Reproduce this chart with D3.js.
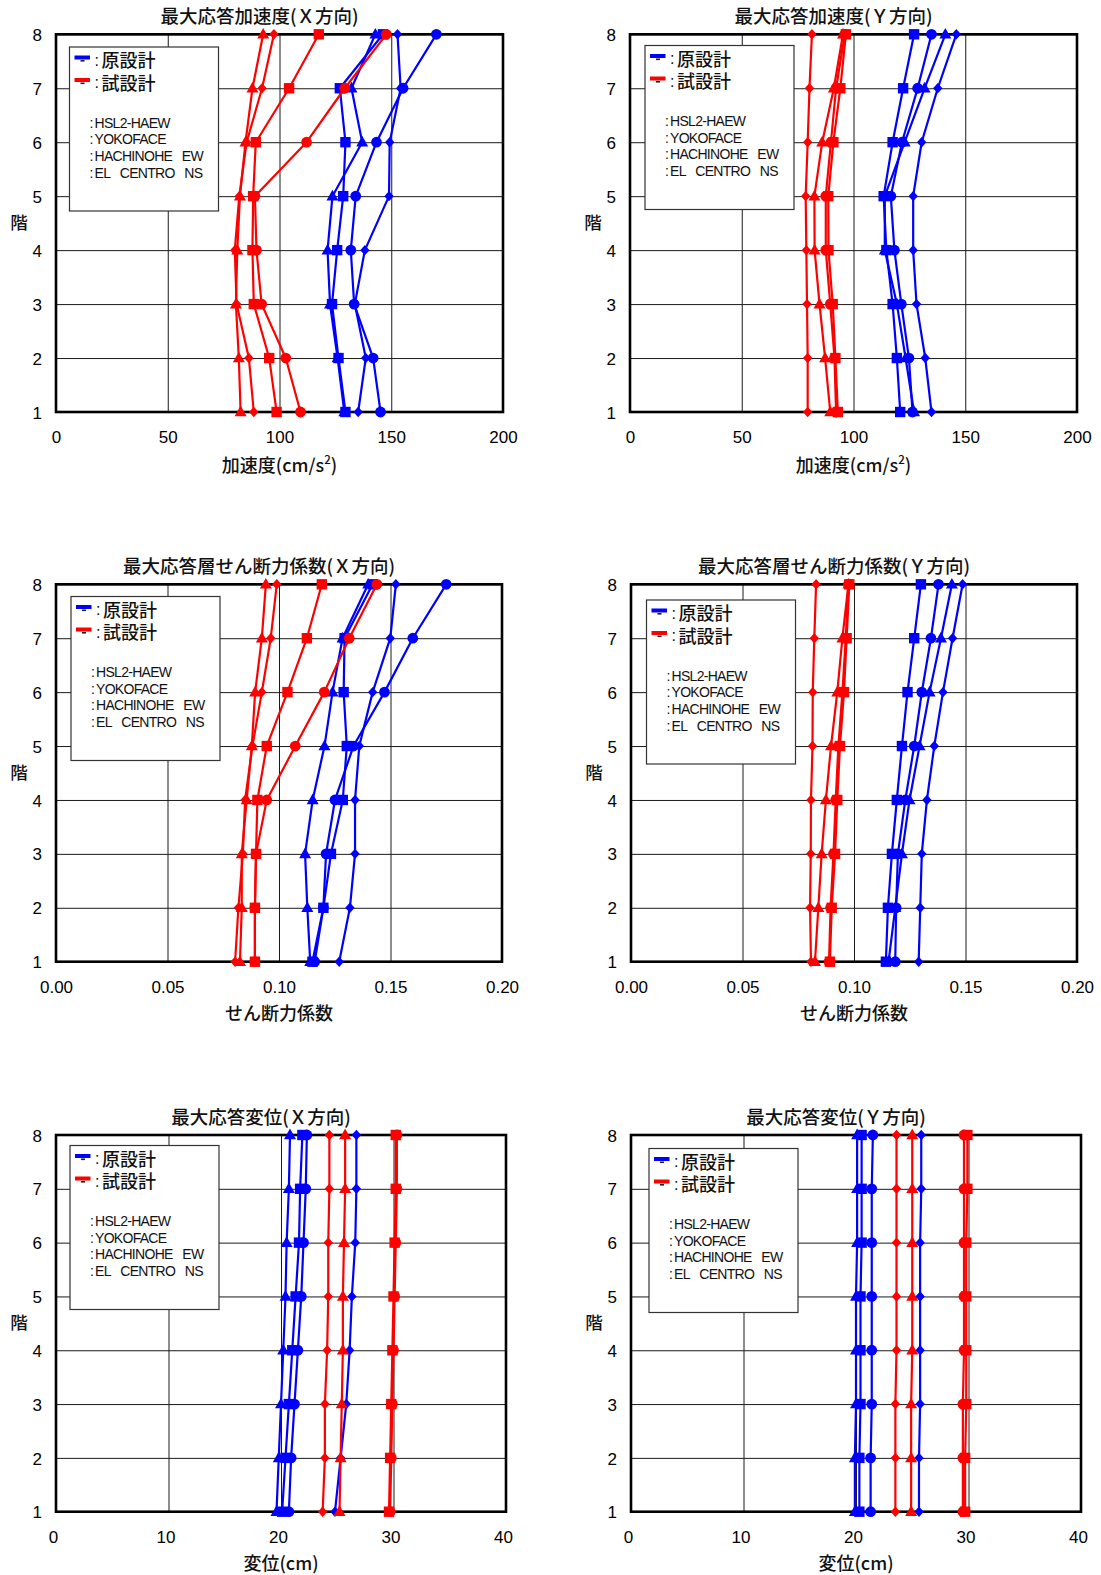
<!DOCTYPE html>
<html><head><meta charset="utf-8">
<script src="https://cdn.jsdelivr.net/npm/d3@7"></script>
<style>
body{margin:0;background:#fff}
svg{display:block}
.num{font-family:"Liberation Sans",Arial,sans-serif}
.jp{font-family:"Noto Sans CJK JP","Noto Sans",sans-serif}
</style>
</head><body>
<svg id="c" width="1101" height="1575"></svg>
<script>
// ---------- data ----------
const floors = [1, 2, 3, 4, 5, 6, 7, 8];
const waveNames = ["HSL2-HAEW", "YOKOFACE", "HACHINOHE\u00a0\u00a0\u00a0EW", "EL\u00a0\u00a0\u00a0CENTRO\u00a0\u00a0\u00a0NS"];
const markerTypes = ["square", "triangle", "diamond", "circle"];
const designNames = ["原設計", "試設計"];

const accTicks = [0, 50, 100, 150, 200];
const shearTicks = [0, 0.05, 0.10, 0.15, 0.20];
const dispTicks = [0, 10, 20, 30, 40];

// values per floor 1..8, series order: HSL2-HAEW, YOKOFACE, HACHINOHE EW, EL CENTRO NS
const accX_orig = [
  [129.5, 126.4, 123.5, 125.8, 128.5, 129.5, 127.0, 146.3],
  [129.0, 126.0, 122.6, 121.5, 123.7, 137.0, 132.2, 142.9],
  [135.2, 138.6, 133.7, 138.2, 149.0, 149.3, 154.2, 152.8],
  [145.2, 141.9, 133.4, 131.9, 134.1, 143.4, 155.3, 170.2]
];
const accX_trial = [
  [98.7, 95.4, 88.5, 87.9, 88.2, 89.4, 104.3, 117.6],
  [82.6, 81.8, 80.5, 81.1, 82.3, 84.8, 87.9, 92.7],
  [88.5, 86.3, 80.8, 80.0, 82.0, 85.3, 92.2, 97.5],
  [109.4, 102.8, 92.0, 89.7, 89.0, 112.1, 129.2, 147.8]
];
const accY_orig = [
  [120.9, 119.4, 117.5, 114.7, 113.5, 117.5, 122.2, 127.1],
  [127.1, 123.3, 119.4, 114.0, 114.0, 122.9, 131.8, 141.1],
  [134.9, 132.1, 128.2, 126.7, 126.7, 130.5, 137.7, 146.0],
  [126.4, 124.8, 121.4, 118.3, 116.7, 121.7, 128.7, 134.9]
];
const accY_trial = [
  [93.0, 91.9, 90.7, 88.8, 88.7, 91.0, 94.1, 96.6],
  [89.6, 87.3, 84.8, 82.6, 82.5, 86.0, 91.2, 95.3],
  [79.5, 79.5, 79.2, 78.9, 78.6, 79.5, 80.3, 81.4],
  [92.2, 91.5, 89.6, 87.6, 87.6, 89.9, 92.2, 96.1]
];
const shearX_orig = [
  [0.1150, 0.1199, 0.1233, 0.1286, 0.1304, 0.1290, 0.1294, 0.1420],
  [0.1140, 0.1127, 0.1117, 0.1151, 0.1204, 0.1240, 0.1285, 0.1400],
  [0.1270, 0.1318, 0.1341, 0.1341, 0.1360, 0.1420, 0.1499, 0.1524],
  [0.1160, 0.1199, 0.1211, 0.1251, 0.1334, 0.1473, 0.1600, 0.1750]
];
const shearX_trial = [
  [0.0892, 0.0892, 0.0897, 0.0903, 0.0945, 0.1038, 0.1125, 0.1192],
  [0.0825, 0.0833, 0.0833, 0.0855, 0.0878, 0.0893, 0.0923, 0.0941],
  [0.0803, 0.0818, 0.0838, 0.0848, 0.0881, 0.0923, 0.0963, 0.0990],
  [0.0892, 0.0892, 0.0897, 0.0945, 0.1073, 0.1203, 0.1315, 0.1439]
];
const shearY_orig = [
  [0.1143, 0.1152, 0.1170, 0.1192, 0.1215, 0.1240, 0.1270, 0.1300],
  [0.1155, 0.1185, 0.1215, 0.1249, 0.1294, 0.1339, 0.1390, 0.1439],
  [0.1290, 0.1297, 0.1304, 0.1327, 0.1360, 0.1399, 0.1442, 0.1487],
  [0.1185, 0.1189, 0.1197, 0.1230, 0.1270, 0.1304, 0.1345, 0.1379]
];
const shearY_trial = [
  [0.0892, 0.0900, 0.0915, 0.0925, 0.0937, 0.0955, 0.0967, 0.0979],
  [0.0825, 0.0840, 0.0855, 0.0874, 0.0897, 0.0925, 0.0948, 0.0975],
  [0.0807, 0.0803, 0.0806, 0.0807, 0.0814, 0.0815, 0.0822, 0.0830],
  [0.0888, 0.0895, 0.0908, 0.0918, 0.0930, 0.0948, 0.0963, 0.0975]
];
const dispX_orig = [
  [20.1, 20.4, 20.7, 21.0, 21.3, 21.6, 21.7, 21.9],
  [19.6, 19.8, 20.0, 20.2, 20.4, 20.5, 20.7, 20.8],
  [24.8, 25.3, 25.8, 26.1, 26.3, 26.6, 26.7, 26.7],
  [20.7, 20.9, 21.2, 21.5, 21.8, 22.0, 22.2, 22.3]
];
const dispX_trial = [
  [29.6, 29.7, 29.8, 29.9, 30.0, 30.1, 30.2, 30.2],
  [25.2, 25.3, 25.4, 25.5, 25.5, 25.6, 25.7, 25.7],
  [23.7, 23.9, 23.9, 24.1, 24.2, 24.2, 24.3, 24.3],
  [29.7, 29.8, 29.9, 30.0, 30.1, 30.2, 30.3, 30.3]
];
const dispY_orig = [
  [20.3, 20.3, 20.4, 20.4, 20.4, 20.5, 20.5, 20.5],
  [19.9, 19.9, 20.0, 20.0, 20.0, 20.1, 20.1, 20.1],
  [25.6, 25.6, 25.7, 25.7, 25.7, 25.7, 25.8, 25.8],
  [21.3, 21.3, 21.4, 21.4, 21.4, 21.4, 21.4, 21.5]
];
const dispY_trial = [
  [29.7, 29.7, 29.8, 29.8, 29.8, 29.8, 29.9, 29.9],
  [24.9, 24.9, 24.9, 25.0, 25.0, 25.0, 25.0, 25.0],
  [23.5, 23.5, 23.5, 23.6, 23.6, 23.6, 23.6, 23.6],
  [29.5, 29.5, 29.5, 29.6, 29.6, 29.6, 29.6, 29.6]
];

// ---------- layout ----------
const colors = ["#0000ff", "#ff0000"];
const panels = [
  {title:"最大応答加速度(Ｘ方向)", xlab:"acc", ticks:accTicks, fmt:d3.format("d"), orig:accX_orig, trial:accX_trial,
   l:56, r:503, t:34.3, b:412, lg:[69.5,47], tdx:0},
  {title:"最大応答加速度(Ｙ方向)", xlab:"acc", ticks:accTicks, fmt:d3.format("d"), orig:accY_orig, trial:accY_trial,
   l:630, r:1077, t:34.3, b:412, lg:[645,45.5], tdx:0},
  {title:"最大応答層せん断力係数(Ｘ方向)", xlab:"せん断力係数", ticks:shearTicks, fmt:d3.format(".2f"), orig:shearX_orig, trial:shearX_trial,
   l:56, r:502, t:584.3, b:961.7, lg:[71,596.5], tdx:0},
  {title:"最大応答層せん断力係数(Ｙ方向)", xlab:"せん断力係数", ticks:shearTicks, fmt:d3.format(".2f"), orig:shearY_orig, trial:shearY_trial,
   l:631, r:1077, t:584.3, b:961.7, lg:[646.5,600], tdx:0},
  {title:"最大応答変位(Ｘ方向)", xlab:"変位(cm)", ticks:dispTicks, fmt:d3.format("d"), orig:dispX_orig, trial:dispX_trial,
   l:56, r:506, t:1135, b:1511.7, lg:[70,1145.5], tdx:-3},
  {title:"最大応答変位(Ｙ方向)", xlab:"変位(cm)", ticks:dispTicks, fmt:d3.format("d"), orig:dispY_orig, trial:dispY_trial,
   l:631, r:1081, t:1135, b:1511.7, lg:[649,1148.5], tdx:-3}
];

function markerPath(type){
  switch(type){
    case "square": return "M-5.2,-5.2H5.2V5.2H-5.2Z";
    case "triangle": return "M0,-6.4L6,4.3H-6Z";
    case "diamond": return "M0,-5.2L4.7,0L0,5.2L-4.7,0Z";
    default: { const p = d3.path(); p.arc(0, 0, 5.4, 0, 2*Math.PI); p.closePath(); return p.toString(); }
  }
}

const svg = d3.select("#c");

panels.forEach(p => {
  const w = p.r - p.l, h = p.b - p.t;
  const x = d3.scaleLinear().domain([p.ticks[0], p.ticks[p.ticks.length-1]]).range([0, w]);
  const y = d3.scaleLinear().domain([1, 8]).range([h, 0]);
  const g = svg.append("g").attr("transform", `translate(${p.l},${p.t})`);

  // x grid + labels
  const gx = g.append("g").attr("transform", `translate(0,${h})`)
    .call(d3.axisBottom(x).tickValues(p.ticks).tickFormat(p.fmt).tickSize(-h));
  gx.select(".domain").remove();
  gx.selectAll("line").attr("stroke", "#1a1a1a").attr("stroke-width", 1);
  gx.selectAll("text").attr("class", "num").attr("font-size", 17).attr("fill", "#000")
    .attr("y", 31).attr("dy", 0).attr("dx", p.tdx);

  // y grid + labels
  const gy = g.append("g")
    .call(d3.axisLeft(y).tickValues(floors).tickFormat(d3.format("d")).tickSize(-w));
  gy.select(".domain").remove();
  gy.selectAll("line").attr("stroke", "#1a1a1a").attr("stroke-width", 1);
  gy.selectAll("text").attr("class", "num").attr("font-size", 17).attr("fill", "#000")
    .attr("x", -14).attr("dy", "0.36em");

  // frame
  g.append("rect").attr("width", w).attr("height", h)
    .attr("fill", "none").attr("stroke", "#000").attr("stroke-width", 2.6);

  // title
  g.append("text").attr("class", "jp").attr("x", w/2 - 20).attr("y", -11)
    .attr("text-anchor", "middle").attr("font-size", 18.5).attr("font-weight", 500)
    .attr("fill", "#111").text(p.title);

  // y label
  g.append("text").attr("class", "jp").attr("x", -37).attr("y", h/2 + 6)
    .attr("text-anchor", "middle").attr("font-size", 17.5).attr("font-weight", 500)
    .attr("fill", "#111").text("階");

  // x label
  const xl = g.append("text").attr("class", "jp").attr("x", w/2)
    .attr("y", h + (p.xlab === "acc" ? 60 : 58))
    .attr("text-anchor", "middle").attr("font-size", 18).attr("font-weight", 500).attr("fill", "#111");
  if (p.xlab === "acc") {
    xl.append("tspan").text("加速度(cm/s");
    xl.append("tspan").attr("font-size", 11.5).attr("dy", -7.5).text("2");
    xl.append("tspan").attr("dy", 7.5).text(")");
  } else {
    xl.text(p.xlab);
  }

  // series
  const line = d3.line().x(d => x(d.v)).y(d => y(d.f));
  [p.orig, p.trial].forEach((set, ci) => {
    set.forEach((vals, si) => {
      const pts = vals.map((v, i) => ({v, f: floors[i]}));
      const sg = g.append("g");
      sg.append("path").attr("d", line(pts)).attr("fill", "none")
        .attr("stroke", colors[ci]).attr("stroke-width", 2.2).attr("stroke-linejoin", "round");
      sg.selectAll("path.m").data(pts).join("path").attr("class", "m")
        .attr("d", markerPath(markerTypes[si]))
        .attr("transform", d => `translate(${x(d.v)},${y(d.f)})`)
        .attr("fill", colors[ci]);
    });
  });

  // legend
  const lg = svg.append("g").attr("transform", `translate(${p.lg[0]},${p.lg[1]})`);
  lg.append("rect").attr("width", 149).attr("height", 164)
    .attr("fill", "#fff").attr("stroke", "#333").attr("stroke-width", 1.2);
  const dt = lg.append("text").attr("class", "jp").attr("font-size", 18)
    .attr("font-weight", 500).attr("fill", "#111");
  designNames.forEach((nm, i) => {
    const yy = 10.5 + i * 22.5;
    lg.append("rect").attr("x", 5).attr("y", yy - 2).attr("width", 15.5).attr("height", 4).attr("fill", colors[i]);
    lg.append("rect").attr("x", 11).attr("y", yy + 2.5).attr("width", 4).attr("height", 1.6).attr("fill", "#222");
    dt.append("tspan").attr("class", "num").attr("font-size", 16).attr("font-weight", 400)
      .attr("x", 25).attr("y", yy + 8).text(":");
    dt.append("tspan").attr("x", 32).attr("y", yy + 9.5).text(nm);
  });
  const wt = lg.append("text").attr("class", "num").attr("font-size", 14).attr("fill", "#111");
  waveNames.forEach((nm, i) => {
    const yy = 80.5 + i * 16.7;
    wt.append("tspan").attr("x", 20).attr("y", yy).text(":");
    wt.append("tspan").attr("x", 25).attr("y", yy).attr("letter-spacing", -0.7).text(nm);
  });
});
</script>
</body></html>
